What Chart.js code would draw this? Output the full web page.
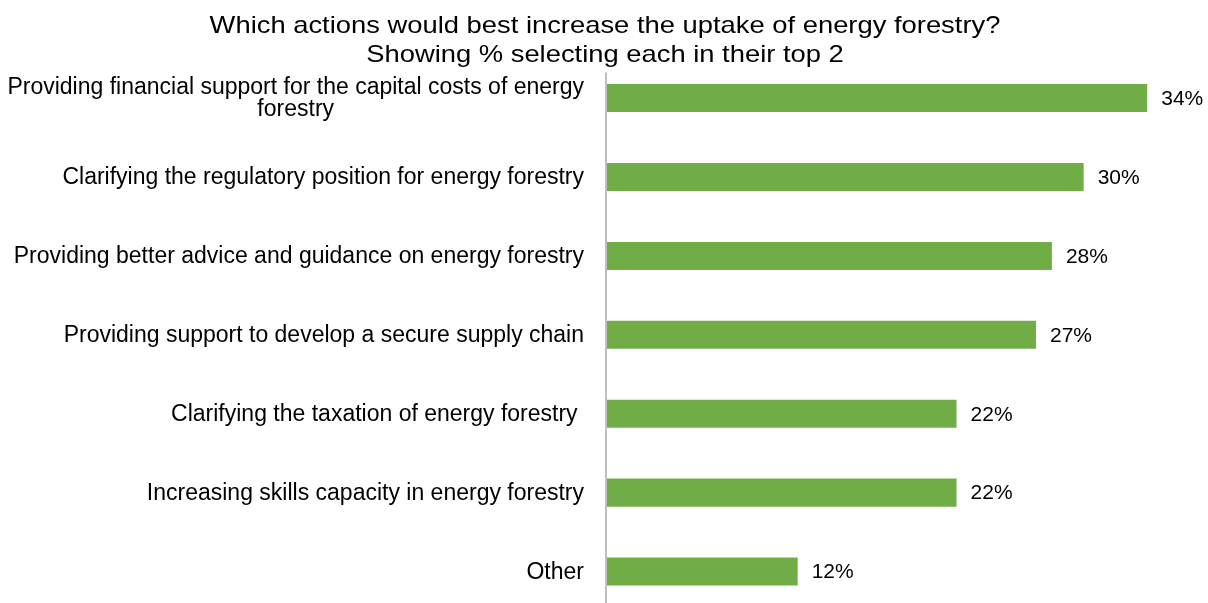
<!DOCTYPE html>
<html>
<head>
<meta charset="utf-8">
<title>Energy forestry uptake actions</title>
<script src="https://cdn.jsdelivr.net/npm/chart.js@4.4.1/dist/chart.umd.min.js"></script>
<style>
  html, body { margin: 0; padding: 0; background: #ffffff; overflow: hidden; width: 1208px; height: 603px; }
  /* the plot runs slightly past the bottom edge of the window */
  #wrap { width: 1208px; height: 611px; position: relative; }
</style>
</head>
<body>
<div id="wrap"><canvas id="chart"></canvas></div>
<script>
// Survey answers, percentages of respondents choosing each option in their top 2
const categories = [
  ["Providing financial support for the capital costs of energy", "forestry"],
  "Clarifying the regulatory position for energy forestry",
  "Providing better advice and guidance on energy forestry",
  "Providing support to develop a secure supply chain",
  "Clarifying the taxation of energy forestry ",
  "Increasing skills capacity in energy forestry",
  "Other"
];
const percentSelecting = [34, 30, 28, 27, 22, 22, 12];
const titleLines = [
  "Which actions would best increase the uptake of energy forestry?",
  "Showing % selecting each in their top 2"
];

const FONT = "'Liberation Sans', Arial, sans-serif";
const TEXT = "#000000";
const BAR_GREEN = "#70AD47";
const AXIS_GREY = "#BFBFBF";

// Two-line title, slightly widened, centred over the canvas
const wideTitle = {
  id: 'wideTitle',
  afterDraw(chart) {
    const { ctx, width } = chart;
    const stretch = 1.14;
    ctx.save();
    ctx.font = `24px ${FONT}`;
    ctx.fillStyle = TEXT;
    ctx.textAlign = 'center';
    ctx.textBaseline = 'middle';
    ctx.translate(width / 2 + 1, 0);
    ctx.scale(stretch, 1);
    titleLines.forEach((line, i) => ctx.fillText(line, 0, 26 + i * 29));
    ctx.restore();
  }
};

// Category labels: each label block is right-aligned against the axis,
// lines inside a multi-line block are centred on each other.
const categoryLabels = {
  id: 'categoryLabels',
  afterDraw(chart) {
    const { ctx } = chart;
    const y = chart.scales.y;
    const right = chart.chartArea.left - 23;
    const lineH = 22;
    ctx.save();
    ctx.font = `23px ${FONT}`;
    ctx.fillStyle = TEXT;
    ctx.textAlign = 'center';
    ctx.textBaseline = 'middle';
    y.ticks.forEach((t, i) => {
      const raw = chart.data.labels[i];
      const lines = Array.isArray(raw) ? raw : [raw];
      const w = Math.max(...lines.map(l => ctx.measureText(l).width));
      const cx = right - w / 2;
      const cy = y.getPixelForTick(i) + 1;
      const startY = cy - (lines.length - 1) * lineH / 2;
      lines.forEach((l, k) => ctx.fillText(l, cx, startY + k * lineH));
    });
    ctx.restore();
  }
};

// Vertical category axis line, starting just below the title text
const axisLine = {
  id: 'axisLine',
  beforeDatasetsDraw(chart) {
    const { ctx, chartArea } = chart;
    const x = chartArea.left - 1;
    ctx.save();
    ctx.strokeStyle = AXIS_GREY;
    ctx.lineWidth = 2;
    ctx.beginPath();
    ctx.moveTo(x, chartArea.top + 14);
    ctx.lineTo(x, chartArea.bottom);
    ctx.stroke();
    ctx.restore();
  }
};

// Percentage label to the right of every bar
const valueLabels = {
  id: 'valueLabels',
  afterDatasetsDraw(chart) {
    const { ctx } = chart;
    const meta = chart.getDatasetMeta(0);
    ctx.save();
    ctx.font = `21px ${FONT}`;
    ctx.fillStyle = TEXT;
    ctx.textAlign = 'left';
    ctx.textBaseline = 'middle';
    meta.data.forEach((bar, i) => {
      ctx.fillText(percentSelecting[i] + '%', bar.x + 14, bar.y + 1);
    });
    ctx.restore();
  }
};

new Chart(document.getElementById('chart'), {
  type: 'bar',
  data: {
    labels: categories,
    datasets: [{
      data: percentSelecting,
      backgroundColor: BAR_GREEN,
      borderWidth: 0,
      barPercentage: 0.355,
      categoryPercentage: 1.0
    }]
  },
  options: {
    indexAxis: 'y',
    responsive: true,
    maintainAspectRatio: false,
    animation: false,
    events: [],
    layout: { padding: { left: 0, right: 29, top: 58.6, bottom: 0 } },
    scales: {
      x: {
        display: false,
        min: 0,
        max: 36
      },
      y: {
        type: 'category',
        grid: { display: false },
        border: { display: false },
        ticks: { display: false },
        afterFit(scale) { scale.width = 607; }
      }
    },
    plugins: {
      legend: { display: false },
      tooltip: { enabled: false },
      title: { display: false }
    }
  },
  plugins: [axisLine, valueLabels, categoryLabels, wideTitle]
});
</script>
</body>
</html>
